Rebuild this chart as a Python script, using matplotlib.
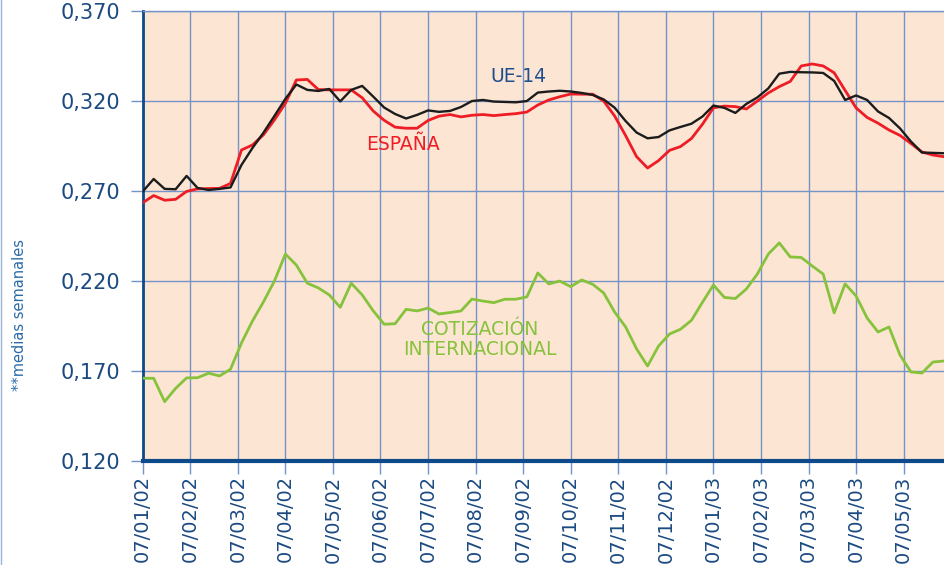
import numpy as np
import matplotlib.pyplot as plt
from matplotlib.lines import Line2D

# medias semanales, una por semana desde 07/01/02
ue14 = [0.2695, 0.2765, 0.2710, 0.2708, 0.2782, 0.2715, 0.2704, 0.2710, 0.2718, 0.2843,
        0.2937, 0.3022, 0.3115, 0.3210, 0.3290, 0.3260, 0.3254, 0.3265, 0.3196, 0.3260,
        0.3282, 0.3223, 0.3162, 0.3126, 0.3101, 0.3121, 0.3146, 0.3138, 0.3143, 0.3165,
        0.3198, 0.3204, 0.3195, 0.3193, 0.3191, 0.3198, 0.3245, 0.3251, 0.3255, 0.3251,
        0.3243, 0.3232, 0.3207, 0.3161, 0.3087, 0.3023, 0.2991, 0.2998, 0.3035, 0.3054,
        0.3072, 0.3112, 0.3173, 0.3160, 0.3132, 0.3182, 0.3218, 0.3268, 0.3350, 0.3360,
        0.3358, 0.3357, 0.3354, 0.3310, 0.3204, 0.3229, 0.3204, 0.3140, 0.3104, 0.3046,
        0.2973, 0.2912, 0.2910, 0.2908]

espana = [0.2633, 0.2673, 0.2647, 0.2652, 0.2696, 0.2710, 0.2712, 0.2713, 0.2740, 0.2926,
          0.2954, 0.3010, 0.3093, 0.3185, 0.3315, 0.3318, 0.3262, 0.3260, 0.3260, 0.3260,
          0.3216, 0.3143, 0.3091, 0.3053, 0.3047, 0.3047, 0.3090, 0.3114, 0.3123, 0.3110,
          0.3119, 0.3123, 0.3117, 0.3123, 0.3128, 0.3137, 0.3176, 0.3204, 0.3222, 0.3237,
          0.3236, 0.3236, 0.3198, 0.3115, 0.3006, 0.2889, 0.2826, 0.2867, 0.2924, 0.2945,
          0.2990, 0.3069, 0.3160, 0.3170, 0.3167, 0.3154, 0.3198, 0.3243, 0.3278, 0.3307,
          0.3393, 0.3404, 0.3393, 0.3355, 0.3257, 0.3160, 0.3107, 0.3075, 0.3037, 0.3007,
          0.2962, 0.2915, 0.2898, 0.2889]

cotizacion = [0.1658, 0.1658, 0.1528, 0.1602, 0.1660, 0.1661, 0.1686, 0.1671, 0.1708, 0.1854,
              0.1976, 0.2082, 0.2198, 0.2348, 0.2287, 0.2186, 0.2160, 0.2121, 0.2052, 0.2186,
              0.2121, 0.2033, 0.1958, 0.1961, 0.2041, 0.2032, 0.2048, 0.2015, 0.2023, 0.2032,
              0.2098, 0.2087, 0.2078, 0.2097, 0.2097, 0.2110, 0.2243, 0.2182, 0.2198, 0.2167,
              0.2204, 0.2180, 0.2132, 0.2026, 0.1943, 0.1821, 0.1726, 0.1837, 0.1904, 0.1930,
              0.1980, 0.2080, 0.2176, 0.2107, 0.2101, 0.2154, 0.2237, 0.2348, 0.2410, 0.2332,
              0.2329, 0.2282, 0.2237, 0.2021, 0.2182, 0.2115, 0.1993, 0.1915, 0.1943, 0.1787,
              0.1693, 0.1687, 0.1748, 0.1754]

meses = ['07/01/02', '07/02/02', '07/03/02', '07/04/02', '07/05/02', '07/06/02',
         '07/07/02', '07/08/02', '07/09/02', '07/10/02', '07/11/02', '07/12/02',
         '07/01/03', '07/02/03', '07/03/03', '07/04/03', '07/05/03']

yticks = [0.120, 0.170, 0.220, 0.270, 0.320, 0.370]

semanas = np.arange(len(ue14))
pos_meses = np.arange(len(meses)) * 52 / 12

azul = '#1b4a82'
rejilla = '#7393c9'

fig = plt.figure(figsize=(9.45, 5.65), dpi=100)
ax = fig.add_axes([0.151, 0.1846, 0.849, 0.7965])
ax.set_facecolor('#fde5d3')

ax.plot(semanas, cotizacion, color='#86c23c', lw=2.0, zorder=3)
ax.plot(semanas, espana, color='#ee1c25', lw=2.0, zorder=4)
ax.plot(semanas, ue14, color='#1c1c1c', lw=1.7, zorder=5)

ax.set_xlim(0, 73.1)
ax.set_ylim(0.120, 0.370)
ax.set_xticks(pos_meses)
ax.set_xticklabels(meses, rotation=90, fontsize=14, color=azul)
ax.set_yticks(yticks)
ax.set_yticklabels([('%.3f' % v).replace('.', ',') for v in yticks], fontsize=15, color=azul)
ax.tick_params(axis='x', length=9, width=1, color=rejilla, pad=1.5)
ax.tick_params(axis='y', length=9, width=1, color=rejilla, pad=7)

ax.grid(True, color=rejilla, lw=1, zorder=1)
ax.set_axisbelow(True)
ax.spines['right'].set_visible(False)
ax.spines['top'].set_color(rejilla)
ax.spines['top'].set_linewidth(1)
ax.spines['left'].set_color('#0d4a8a')
ax.spines['left'].set_linewidth(2)
ax.spines['bottom'].set_color('#0d4a8a')
ax.spines['bottom'].set_linewidth(3)

ax.text(34.2, 0.3332, 'UE-14', color='#1f4e8c', fontsize=13.5, ha='center', va='center')
ax.text(23.7, 0.2954, 'ESPAÑA', color='#ee1c25', fontsize=13.5, ha='center', va='center')
ax.text(30.7, 0.1873, 'COTIZACIÓN\nINTERNACIONAL', color='#86c23c', fontsize=13.5,
        ha='center', va='center', linespacing=1.1)

fig.text(0.021, 0.442, '**medias semanales', rotation=90, color='#2a6aa8',
         fontsize=10.5, ha='center', va='center')
fig.add_artist(Line2D([0.001, 0.001], [0, 1], color='#9ab3d8', lw=1))

plt.savefig('out.png', dpi=100)
